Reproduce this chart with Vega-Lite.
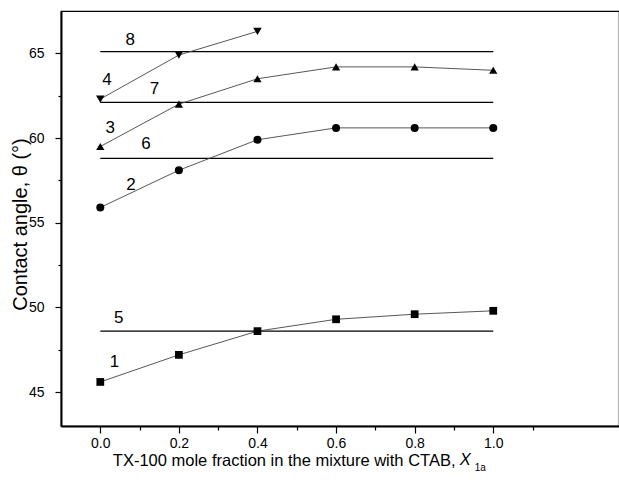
{
  "$schema": "https://vega.github.io/schema/vega-lite/v6.json",
  "width": 558,
  "height": 415,
  "autosize": {"type": "none"},
  "padding": {"left": 61, "top": 11, "right": 0, "bottom": 60},
  "background": "white",
  "view": {"stroke": "black", "strokeWidth": 1.2},
  "config": {
    "font": "Liberation Sans",
    "axis": {"grid": false, "domainColor": "black", "domainWidth": 2, "tickColor": "black", "tickWidth": 1.2, "labelColor": "black", "titleColor": "black", "labelFont": "Liberation Sans", "titleFont": "Liberation Sans", "titleFontWeight": "normal", "labelFontSize": 14, "titleFontSize": 17}
  },
  "datasets": {
    "points": [
      {"series": "1", "x": 0.0, "y": 45.6}, {"series": "1", "x": 0.2, "y": 47.2}, {"series": "1", "x": 0.4, "y": 48.6}, {"series": "1", "x": 0.6, "y": 49.3}, {"series": "1", "x": 0.8, "y": 49.6}, {"series": "1", "x": 1.0, "y": 49.8},
      {"series": "2", "x": 0.0, "y": 55.9}, {"series": "2", "x": 0.2, "y": 58.1}, {"series": "2", "x": 0.4, "y": 59.9}, {"series": "2", "x": 0.6, "y": 60.6}, {"series": "2", "x": 0.8, "y": 60.6}, {"series": "2", "x": 1.0, "y": 60.6},
      {"series": "3", "x": 0.0, "y": 59.5}, {"series": "3", "x": 0.2, "y": 62.0}, {"series": "3", "x": 0.4, "y": 63.5}, {"series": "3", "x": 0.6, "y": 64.2}, {"series": "3", "x": 0.8, "y": 64.2}, {"series": "3", "x": 1.0, "y": 64.0},
      {"series": "4", "x": 0.0, "y": 62.3}, {"series": "4", "x": 0.2, "y": 64.9}, {"series": "4", "x": 0.4, "y": 66.3}
    ],
    "hlines": [
      {"line": "5", "x": 0.0, "y": 48.6}, {"line": "5", "x": 1.0, "y": 48.6},
      {"line": "6", "x": 0.0, "y": 58.8}, {"line": "6", "x": 1.0, "y": 58.8},
      {"line": "7", "x": 0.0, "y": 62.1}, {"line": "7", "x": 1.0, "y": 62.1},
      {"line": "8", "x": 0.0, "y": 65.1}, {"line": "8", "x": 1.0, "y": 65.1}
    ],
    "labels": [
      {"label": "1", "x": 0.036, "y": 46.8},
      {"label": "2", "x": 0.078, "y": 57.2},
      {"label": "3", "x": 0.025, "y": 60.6},
      {"label": "4", "x": 0.017, "y": 63.4},
      {"label": "5", "x": 0.047, "y": 49.4},
      {"label": "6", "x": 0.116, "y": 59.67},
      {"label": "7", "x": 0.138, "y": 62.9},
      {"label": "8", "x": 0.076, "y": 65.78}
    ]
  },
  "layer": [
    {
      "data": {"name": "hlines"},
      "mark": {"type": "line", "color": "black", "strokeWidth": 1.3},
      "encoding": {
        "x": {"field": "x", "type": "quantitative", "scale": {"domain": [-0.1, 1.32], "nice": false, "zero": false},
          "axis": {"values": [0, 0.1, 0.2, 0.3, 0.4, 0.5, 0.6, 0.7, 0.8, 0.9, 1.0, 1.1], "format": ".1f",
            "labelExpr": "round(datum.value*10) % 2 === 0 ? datum.label : ''",
            "tickSize": {"condition": {"test": "round(datum.value*10) % 2 === 0", "value": 7}, "value": 4},
            "labelPadding": 3, "labelFlush": false,
            "title": "TX-100 mole fraction in the mixture with CTAB,", "titleX": 394, "titleY": 39, "titleAlign": "right", "titleBaseline": "alphabetic", "titleFontSize": 16.5}},
        "y": {"field": "y", "type": "quantitative", "scale": {"domain": [43, 67.5], "nice": false, "zero": false},
          "axis": {"values": [45, 47.5, 50, 52.5, 55, 57.5, 60, 62.5, 65], "labelExpr": "datum.value % 5 === 0 ? datum.label : ''",
            "tickSize": {"condition": {"test": "datum.value % 5 === 0", "value": 6}, "value": 3},
            "labelPadding": 11, "labelFlush": false,
            "title": "Contact angle, θ (°)", "titleFontSize": 20, "titleX": -41, "titleY": 213, "titleAngle": -90, "titleAlign": "center", "titleBaseline": "middle"}},
        "detail": {"field": "line"}
      }
    },
    {
      "data": {"name": "points"},
      "mark": {"type": "line", "color": "#444444", "strokeWidth": 0.9},
      "encoding": {
        "x": {"field": "x", "type": "quantitative"},
        "y": {"field": "y", "type": "quantitative"},
        "detail": {"field": "series"}
      }
    },
    {
      "data": {"name": "points"},
      "mark": {"type": "point", "filled": true, "color": "black", "opacity": 1},
      "encoding": {
        "x": {"field": "x", "type": "quantitative"},
        "y": {"field": "y", "type": "quantitative"},
        "shape": {"field": "series", "type": "nominal", "scale": {"domain": ["1", "2", "3", "4"], "range": ["square", "circle", "triangle-up", "triangle-down"]}, "legend": null},
        "size": {"field": "series", "type": "nominal", "scale": {"domain": ["1", "2", "3", "4"], "range": [60, 72, 110, 110]}, "legend": null}
      }
    },
    {
      "data": {"name": "labels"},
      "mark": {"type": "text", "fontSize": 17, "color": "black", "align": "center", "baseline": "middle", "font": "Liberation Sans"},
      "encoding": {
        "x": {"field": "x", "type": "quantitative"},
        "y": {"field": "y", "type": "quantitative"},
        "text": {"field": "label"}
      }
    },
    {
      "data": {"values": [{}]},
      "mark": {"type": "text", "text": "X", "fontSize": 16.5, "fontStyle": "italic", "color": "black", "align": "left", "baseline": "alphabetic", "font": "Liberation Sans"},
      "encoding": {"x": {"datum": 0.915}, "y": {"datum": 40.71}}
    },
    {
      "data": {"values": [{}]},
      "mark": {"type": "text", "text": "1a", "fontSize": 10, "color": "black", "align": "left", "baseline": "alphabetic", "font": "Liberation Sans"},
      "encoding": {"x": {"datum": 0.953}, "y": {"datum": 40.33}}
    }
  ]
}
